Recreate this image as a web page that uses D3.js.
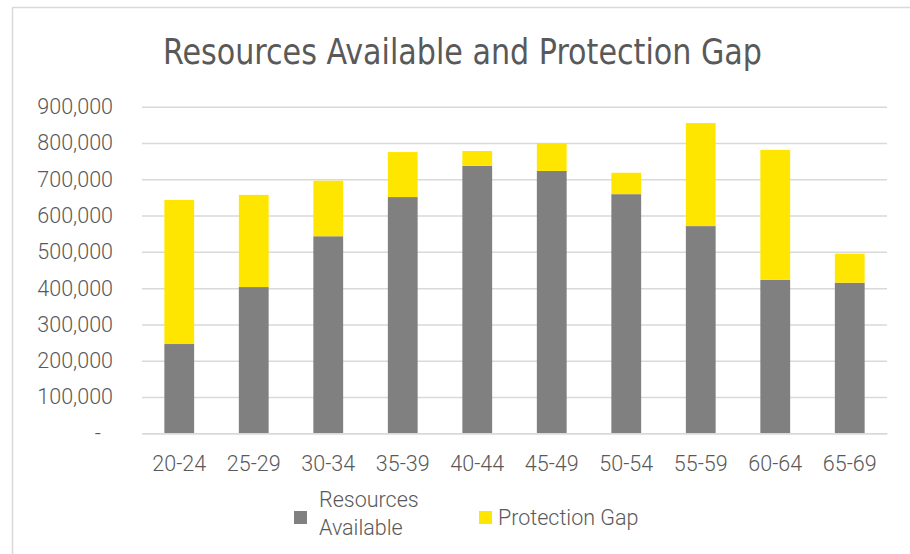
<!DOCTYPE html>
<html>
<head>
<meta charset="utf-8">
<script src="https://cdn.jsdelivr.net/npm/d3@7/dist/d3.min.js"></script>
<style>
	body { margin: 0; background: #fff; }
	text { font-family: Roboto, "Open Sans", sans-serif; fill: #595959; font-weight: 300; }
	.title { font-family: "Liberation Sans Narrow", "DejaVu Sans Condensed", Roboto, sans-serif; }
</style>
</head>
<body>
<div id="graphicContainer"></div>
<script>

// age bands
var categories = ["20-24", "25-29", "30-34", "35-39", "40-44", "45-49", "50-54", "55-59", "60-64", "65-69"]

var resourcesAvailable = [246000, 403000, 543000, 651000, 737000, 723000, 659000, 571000, 423000, 415000]
var protectionGap = [397000, 254000, 153000, 124000, 41000, 77000, 59000, 284000, 358000, 80000]

var yTicks = [0, 100000, 200000, 300000, 400000, 500000, 600000, 700000, 800000, 900000]

var seriesNames = ["Resources Available", "Protection Gap"]
var colours = ["#808080", "#FFE600"]

function init() {

	var width = 910
	var height = 554
	var margin = {top: 106.7, right: 23, bottom: 120.7, left: 142}

	var svg = d3.select("#graphicContainer").append("svg")
		.attr("width", width)
		.attr("height", height)

	// chart border (top + left only visible)
	svg.append("path")
		.attr("d", "M12.5," + height + "V7.5H" + width)
		.attr("fill", "none")
		.attr("stroke", "#d9d9d9")
		.attr("stroke-width", 1.5)

	svg.append("text")
		.attr("class", "title")
		.attr("x", 462.5)
		.attr("y", 64)
		.attr("text-anchor", "middle")
		.attr("font-size", 35)
		.attr("textLength", 599)
		.attr("lengthAdjust", "spacingAndGlyphs")
		.text("Resources Available and Protection Gap")

	var data = categories.map(function(c, i) {
		return {age: c, ra: resourcesAvailable[i], gap: protectionGap[i]}
	})

	var stack = d3.stack().keys(["ra", "gap"])(data)

	var x = d3.scaleBand()
		.domain(categories)
		.range([margin.left, width - margin.right])
		.paddingInner(0.6)
		.paddingOuter(0.3)

	var y = d3.scaleLinear()
		.domain([0, 900000])
		.range([height - margin.bottom, margin.top])

	var fmt = d3.format(",")

	var yAxis = svg.append("g")
		.attr("transform", "translate(" + margin.left + ",0)")
		.call(d3.axisLeft(y)
			.tickValues(yTicks)
			.tickSize(-(width - margin.left - margin.right))
			.tickPadding(29)
			.tickFormat(d => d === 0 ? "-" : fmt(d)))

	yAxis.select(".domain").remove()
	yAxis.selectAll("line")
		.attr("stroke", "#d9d9d9")
		.attr("stroke-width", 1.5)
	yAxis.selectAll("text")
		.attr("font-size", 21.5)
		.attr("fill", "#595959")
		.attr("dx", d => d === 0 ? -12 : 0)

	var features = svg.append("g")

	features.selectAll("g.series")
		.data(stack)
		.enter()
		.append("g")
		.attr("class", "series")
		.attr("fill", (d, i) => colours[i])
		.selectAll("rect")
		.data(d => d)
		.enter()
		.append("rect")
		.attr("x", d => x(d.data.age))
		.attr("width", x.bandwidth())
		.attr("y", d => y(d[1]))
		.attr("height", d => y(d[0]) - y(d[1]))

	// bottom axis
	var xAxis = svg.append("g")
		.attr("transform", "translate(0," + (height - margin.bottom) + ")")
		.call(d3.axisBottom(x).tickSize(0).tickPadding(22))

	xAxis.select(".domain")
		.attr("stroke", "#d9d9d9")
		.attr("stroke-width", 1.5)
	xAxis.selectAll("text")
		.attr("font-size", 21.5)
		.attr("fill", "#595959")

	// legend
	var legend = svg.append("g")

	legend.append("rect")
		.attr("x", 294).attr("y", 511)
		.attr("width", 13).attr("height", 13)
		.attr("fill", colours[0])

	legend.append("text")
		.attr("x", 319).attr("y", 507)
		.attr("font-size", 21.5)
		.text("Resources")

	legend.append("text")
		.attr("x", 319).attr("y", 535)
		.attr("font-size", 21.5)
		.text("Available")

	legend.append("rect")
		.attr("x", 479).attr("y", 511)
		.attr("width", 13).attr("height", 13)
		.attr("fill", colours[1])

	legend.append("text")
		.attr("x", 498).attr("y", 525)
		.attr("font-size", 21.5)
		.text(seriesNames[1])
}

init()

</script>
</body>
</html>
